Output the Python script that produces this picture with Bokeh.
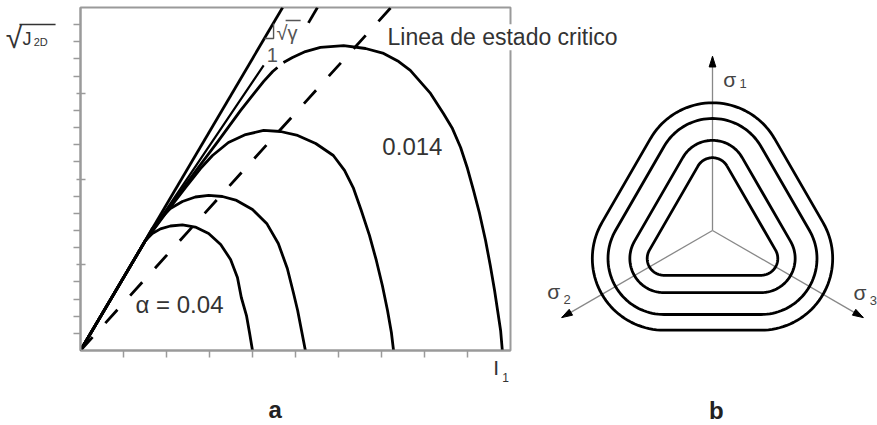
import numpy as np
from bokeh.plotting import figure
from bokeh.models import Range1d, LinearAxis, FixedTicker
from bokeh.embed import file_html
from bokeh.resources import INLINE
from bokeh.core.properties import value

# ---------------- panel a : meridian plane, I1 vs sqrt(J2D) ----------------
Y_MAJOR_TICKS = [5, 10, 15]
Y_MINOR_TICKS = [1, 2, 3, 4, 6, 7, 8, 9, 11, 12, 13, 14, 16, 17, 18, 19]
X_TICKS = [1, 2, 3, 4, 5, 6, 7, 8, 9]

# ultimate envelope sqrt(J2D) = sqrt(gamma) * I1
ULT_X = [0.00, 4.70]
ULT_Y = [0.00, 20.00]

# straight branch leaving the envelope
BRANCH_X = [0.00, 1.51, 4.26]
BRANCH_Y = [0.00, 6.41, 16.62]

# yield surfaces, smallest (alpha = 0.04) to largest (alpha = 0.014)
CAP1_X = [0.00, 1.51, 1.67, 1.86, 2.09, 2.37, 2.67, 2.98, 3.26, 3.49, 3.65, 3.74, 3.86, 3.93, 4.00]
CAP1_Y = [0.00, 6.41, 6.82, 7.09, 7.26, 7.32, 7.20, 6.82, 6.18, 5.31, 4.26, 3.09, 2.04, 1.05, 0.00]

CAP2_X = [0.00, 1.51, 1.67, 1.86, 2.09, 2.37, 2.67, 2.98, 3.30, 3.63, 4.00, 4.33, 4.60, 4.81, 4.95, 5.05, 5.14, 5.23]
CAP2_Y = [0.00, 6.41, 7.11, 7.70, 8.28, 8.69, 8.95, 9.04, 8.98, 8.75, 8.22, 7.41, 6.24, 4.78, 3.38, 2.33, 1.17, 0.00]

CAP3_X = [0.00, 1.51, 1.98, 2.44, 2.79, 3.07, 3.44, 3.84, 4.26, 4.65, 5.05, 5.47, 5.88, 6.14, 6.35,
          6.53, 6.72, 6.88, 7.02, 7.14, 7.23, 7.28]
CAP3_Y = [0.00, 6.41, 7.99, 9.50, 10.61, 11.37, 12.13, 12.59, 12.83, 12.77, 12.54, 12.07, 11.37, 10.50,
          9.45, 8.16, 6.71, 5.25, 3.79, 2.33, 1.05, 0.00]

CAP4_LOW_X = [0.00, 1.51, 2.09, 2.67, 3.21, 3.72, 4.00, 4.26, 4.47, 4.58]
CAP4_LOW_Y = [0.00, 6.41, 8.45, 10.44, 12.24, 13.99, 14.87, 15.69, 16.27, 16.50]
CAP4_HIGH_X = [4.72, 4.93, 5.23, 5.58, 6.12, 6.63, 7.05, 7.40, 7.67, 8.14, 8.44, 8.65, 8.84, 9.00,
               9.14, 9.28, 9.42, 9.53, 9.63, 9.70, 9.77, 9.81]
CAP4_HIGH_Y = [16.79, 17.08, 17.43, 17.67, 17.78, 17.61, 17.32, 16.85, 16.33, 14.99, 13.82, 12.94,
               11.84, 10.61, 9.33, 7.99, 6.41, 4.96, 3.50, 2.33, 1.17, 0.00]

# critical state line and its parallel through the envelope
CSL_X = [0.00, 7.22]
CSL_Y = [0.00, 20.00]
PAR_X = [4.76, 5.51]
PAR_Y = [16.79, 20.00]

# slope triangle on the envelope
SLOPE_X = [4.28, 4.49, 4.49]
SLOPE_Y = [18.19, 18.19, 19.07]

# ---------------- panel b : deviatoric plane ----------------
TRI_R = 1.0                            # circumradius of the core triangle
OFFSETS = [0.30, 0.61, 1.00, 1.28]     # offset of each contour from the core
AXIS_LEN = 3.11
AXIS_ANGLES = [90, 210, 330]
HEAD_LEN, HEAD_W = 0.19, 0.12          # arrow head length / width

GRAY = "#9a9a9a"
TXT = "#333333"
FONT = "Liberation Sans"

# page layout (pixels)
W, H = 877, 425
FRAME_L, FRAME_R, FRAME_T, FRAME_B = 80, 510, 7, 350
B_CX, B_CY, B_SCALE = 712, 230, 56.0

p = figure(width=W, height=H, output_backend="svg", toolbar_location=None,
           x_range=Range1d(0, 10), y_range=Range1d(0, 20),
           x_axis_type=None, y_axis_type=None,
           min_border_left=FRAME_L, min_border_right=W - FRAME_R,
           min_border_top=FRAME_T, min_border_bottom=H - FRAME_B)
p.grid.visible = False
p.background_fill_color = "white"
p.border_fill_color = "white"
p.outline_line_color = GRAY
p.outline_line_width = 2

yax = LinearAxis(ticker=FixedTicker(ticks=Y_MAJOR_TICKS, minor_ticks=Y_MINOR_TICKS),
                 major_label_overrides={t: "" for t in Y_MAJOR_TICKS},
                 axis_line_color=GRAY, axis_line_width=2,
                 major_tick_line_color=GRAY, major_tick_line_width=1.5,
                 major_tick_in=5, major_tick_out=4,
                 minor_tick_line_color=GRAY, minor_tick_line_width=1.5,
                 minor_tick_in=0, minor_tick_out=7)
p.add_layout(yax, "left")
xax = LinearAxis(ticker=FixedTicker(ticks=X_TICKS, minor_ticks=[]),
                 major_label_overrides={t: "" for t in X_TICKS},
                 axis_line_color=GRAY, axis_line_width=2,
                 major_tick_line_color=GRAY, major_tick_line_width=1.5,
                 major_tick_in=0, major_tick_out=7)
p.add_layout(xax, "below")

LW = 2.8
p.line(CSL_X, CSL_Y, line_color="black", line_width=LW, line_dash="18 19")
p.line(PAR_X, PAR_Y, line_color="black", line_width=LW, line_dash="18 46", line_dash_offset=18)
p.line(ULT_X, ULT_Y, line_color="black", line_width=LW)
p.line(BRANCH_X, BRANCH_Y, line_color="black", line_width=2.2)
p.multi_line([CAP1_X, CAP2_X, CAP3_X, CAP4_LOW_X, CAP4_HIGH_X],
             [CAP1_Y, CAP2_Y, CAP3_Y, CAP4_LOW_Y, CAP4_HIGH_Y],
             line_color="black", line_width=LW, line_join="round")
p.line(SLOPE_X, SLOPE_Y, line_color="#555555", line_width=1.4)
p.line([4.77, 5.12], [19.24, 19.24], line_color="#555555", line_width=1.4)


def txt(x, y, s, size, color=TXT, style="normal", align="left", panel=None, **kw):
    """Text with its alphabetic baseline at (x, y)."""
    extra = dict(x_range_name="b", y_range_name="b") if panel == "b" else {}
    p.text([x], [y], [s], text_font=value(FONT), text_font_size=value(f"{size}px"),
           text_color=color, text_font_style=style, text_align=align,
           text_baseline="alphabetic", y_offset=-0.36 * size,
           level="overlay", **extra, **kw)


txt(4.56, 18.08, "\u221a\u03b3", 20, color="#555555")
txt(4.33, 16.79, "1", 20, color="#555555")
txt(7.14, 17.78, "Linea de estado critico", 23, background_fill_color="white")
txt(7.02, 11.37, "0.014", 24)
txt(1.28, 2.16, "\u03b1 = 0.04", 24)

# y-axis title sqrt(J2D)
txt(-1.74, 17.65, "\u221a", 30)
p.line([-1.42, -0.58], [19.01, 19.01], line_color=TXT, line_width=1.5, level="overlay")
txt(-1.35, 17.78, "J", 18)
txt(-1.09, 17.73, "2D", 11)
# x-axis title I1
txt(9.60, -1.46, "I", 21)
txt(9.81, -1.81, "1", 12)
txt(4.53, -3.97, "a", 24, color="#222222", style="bold", align="center")

# ---- panel b in its own coordinates ----
p.extra_x_ranges["b"] = Range1d((FRAME_L - B_CX) / B_SCALE, (FRAME_R - B_CX) / B_SCALE)
p.extra_y_ranges["b"] = Range1d((B_CY - FRAME_B) / B_SCALE, (B_CY - FRAME_T) / B_SCALE)

ang = np.radians(AXIS_ANGLES)
ux, uy = np.cos(ang), np.sin(ang)
p.segment(x0=[0, 0, 0], y0=[0, 0, 0], x1=list(AXIS_LEN * ux), y1=list(AXIS_LEN * uy),
          x_range_name="b", y_range_name="b", line_color="#888888", line_width=1.3, level="overlay")
# arrow heads as small filled triangles at the axis tips
for cx, cy in zip(ux, uy):
    tx, ty = AXIS_LEN * cx, AXIS_LEN * cy
    bx, by = tx - HEAD_LEN * cx, ty - HEAD_LEN * cy
    nx, ny = -cy * HEAD_W / 2, cx * HEAD_W / 2
    p.patch([tx, bx + nx, bx - nx], [ty, by + ny, by - ny],
            fill_color="black", line_color="black", line_width=1,
            x_range_name="b", y_range_name="b", level="overlay")

cxs, cys = [], []
for r in OFFSETS:
    xs, ys = [], []
    for a in AXIS_ANGLES:
        vx, vy = TRI_R * np.cos(np.radians(a)), TRI_R * np.sin(np.radians(a))
        th = np.radians(np.linspace(a - 60, a + 60, 41))
        xs.extend(vx + r * np.cos(th))
        ys.extend(vy + r * np.sin(th))
    xs.append(xs[0])
    ys.append(ys[0])
    cxs.append(xs)
    cys.append(ys)
p.multi_line(cxs, cys, x_range_name="b", y_range_name="b",
             line_color="black", line_width=2.8, line_join="round", level="overlay")

SIG = "#444444"
txt(0.19, 2.57, "\u03c3", 21, color=SIG, panel="b")
txt(0.48, 2.54, "1", 13, color=SIG, panel="b")
txt(-2.95, -1.23, "\u03c3", 21, color=SIG, panel="b")
txt(-2.66, -1.32, "2", 13, color=SIG, panel="b")
txt(2.52, -1.25, "\u03c3", 21, color=SIG, panel="b")
txt(2.81, -1.34, "3", 13, color=SIG, panel="b")
txt(0.07, -3.36, "b", 24, color="#222222", style="bold", align="center", panel="b")

open("out.html", "w").write(file_html(p, INLINE))
